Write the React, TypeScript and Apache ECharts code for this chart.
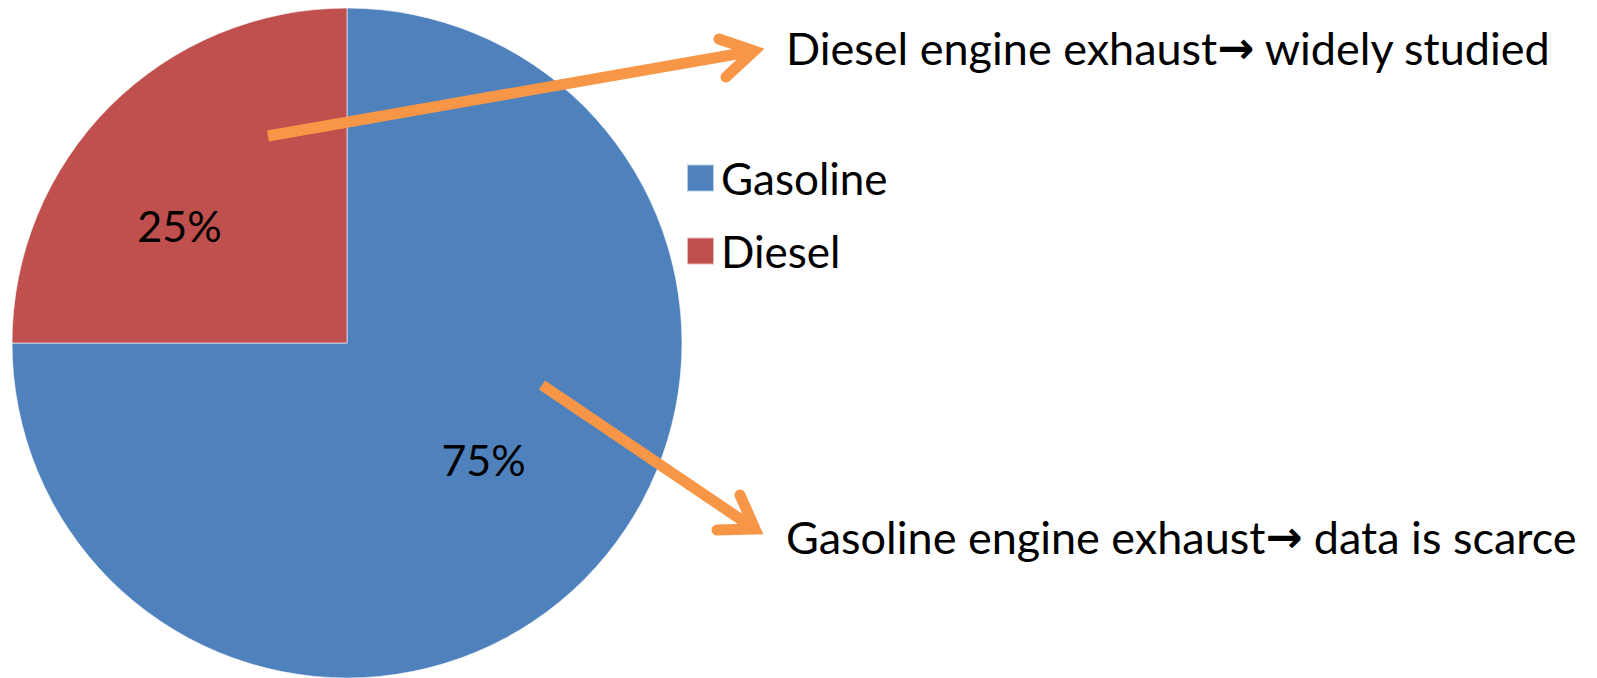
import React, { useEffect, useRef } from 'react';
import * as echarts from 'echarts';

const categories = ['Gasoline', 'Diesel'];
const shares = [75, 25];
const sliceColors = ['#4F81BD', '#C0504D'];
const dieselNote = ['Diesel engine exhaust', 'widely studied'];
const gasolineNote = ['Gasoline engine exhaust', 'data is scarce'];

const FONT = 'Lato';
const ORANGE = '#F79646';

export default function App() {
  const ref = useRef<HTMLDivElement>(null);
  useEffect(() => {
    document.body.style.margin = '0';
    const chart = echarts.init(ref.current!, undefined, { renderer: 'svg' });
    const richStyles = {
      t: { fontFamily: FONT, fontSize: 45, fill: '#000' },
      a: { fontFamily: 'DejaVu Sans', fontSize: 44, fontWeight: 'bold', fill: '#000' },
    };
    const note = (parts: string[]) => `{t|${parts[0]}}{a|→}{t| ${parts[1]}}`;
    const arrowStyle = { stroke: ORANGE, lineWidth: 11 };
    chart.setOption({
      animation: false,
      backgroundColor: '#fff',
      color: sliceColors,
      legend: {
        orient: 'vertical',
        left: 681,
        top: 151,
        icon: 'rect',
        itemWidth: 27,
        itemHeight: 27,
        itemGap: 29,
        data: categories,
        textStyle: {
          fontFamily: FONT,
          fontSize: 44,
          color: '#000',
          padding: [0, 0, 0, 2],
        },
      },
      series: [
        {
          type: 'pie',
          center: [347, 343],
          radius: 335,
          startAngle: 90,
          clockwise: true,
          silent: true,
          itemStyle: { borderColor: 'rgba(255,255,255,0.6)', borderWidth: 1 },
          label: {
            show: true,
            position: 'inside',
            formatter: '{d}%',
            fontFamily: FONT,
            fontSize: 43,
            color: '#000',
          },
          labelLine: { show: false },
          labelLayout: (p: any) =>
            p.dataIndex === 1 ? { dx: -47, dy: 3 } : { dx: 16, dy: -4 },
          data: categories.map((name, i) => ({ name, value: shares[i] })),
        },
      ],
      graphic: [
        {
          type: 'group',
          z: 100,
          children: [
            // arrow to Diesel note
            {
              type: 'line',
              z: 100,
              shape: { x1: 268, y1: 136, x2: 754, y2: 51 },
              style: { ...arrowStyle, lineCap: 'butt' },
            },
            {
              type: 'polyline',
              z: 100,
              shape: { points: [[719, 39], [754, 51], [726, 77]] },
              style: { ...arrowStyle, lineCap: 'round', lineJoin: 'miter', miterLimit: 10, fill: null },
            },
            // arrow to Gasoline note
            {
              type: 'line',
              z: 100,
              shape: { x1: 542, y1: 385, x2: 755, y2: 529 },
              style: { ...arrowStyle, lineCap: 'butt' },
            },
            {
              type: 'polyline',
              z: 100,
              shape: { points: [[740, 495], [755, 529], [717, 530]] },
              style: { ...arrowStyle, lineCap: 'round', lineJoin: 'miter', miterLimit: 10, fill: null },
            },
          ],
        },
        {
          type: 'text',
          left: 786,
          top: 25,
          z: 100,
          style: { text: note(dieselNote), rich: richStyles },
        },
        {
          type: 'text',
          left: 786,
          top: 514,
          z: 100,
          style: { text: note(gasolineNote), rich: richStyles },
        },
      ],
    });
    return () => chart.dispose();
  }, []);
  return <div ref={ref} style={{ width: 1597, height: 678 }} />;
}
